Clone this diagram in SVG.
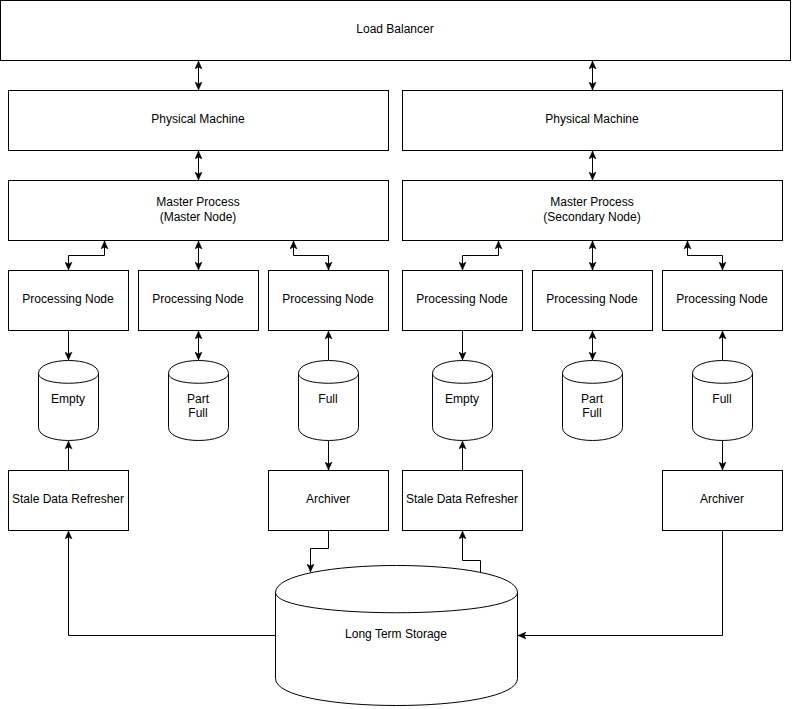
<svg xmlns="http://www.w3.org/2000/svg" width="792" height="709" viewBox="0 0 792 709">
<style>
.b{fill:#fff;stroke:#000;stroke-width:1}
.c{fill:none;stroke:#000;stroke-width:1}
text{font-family:"Liberation Sans",Arial,Helvetica,sans-serif;font-size:12px;fill:#000;text-anchor:middle}
.e{fill:none;stroke:#000;stroke-width:1}
.a2{marker-start:url(#ah);marker-end:url(#ah)}
.a1{marker-end:url(#ah)}
</style>
<defs>
<marker id="ah" markerUnits="userSpaceOnUse" markerWidth="8" markerHeight="8" refX="8" refY="4" orient="auto-start-reverse" viewBox="0 0 8 8">
<path d="M8,4 L0,0.5 L2,4 L0,7.5 Z" fill="#000" stroke="#000" stroke-width="0.5"/>
</marker>
</defs>
<rect width="792" height="709" fill="#fff"/>

<g id="load-balancer"><rect class="b" x="0.5" y="0.5" width="790" height="60"/><text x="395" y="33">Load Balancer</text></g>

<g id="pm-left"><rect class="b" x="8.5" y="90.5" width="380" height="60"/><text x="198" y="123">Physical Machine</text></g>
<g id="pm-right"><rect class="b" x="402.5" y="90.5" width="380" height="60"/><text x="592" y="123">Physical Machine</text></g>

<g id="mp-left"><rect class="b" x="8.5" y="180.5" width="380" height="60"/><text x="198" y="206">Master Process</text><text x="198" y="221">(Master Node)</text></g>
<g id="mp-right"><rect class="b" x="402.5" y="180.5" width="380" height="60"/><text x="592" y="206">Master Process</text><text x="592" y="221">(Secondary Node)</text></g>

<g id="pn-l1"><rect class="b" x="8.5" y="270.5" width="120" height="60"/><text x="68" y="303">Processing Node</text></g>
<g id="pn-l2"><rect class="b" x="138.5" y="270.5" width="120" height="60"/><text x="198" y="303">Processing Node</text></g>
<g id="pn-l3"><rect class="b" x="268.5" y="270.5" width="120" height="60"/><text x="328" y="303">Processing Node</text></g>
<g id="pn-r1"><rect class="b" x="402.5" y="270.5" width="120" height="60"/><text x="462" y="303">Processing Node</text></g>
<g id="pn-r2"><rect class="b" x="532.5" y="270.5" width="120" height="60"/><text x="592" y="303">Processing Node</text></g>
<g id="pn-r3"><rect class="b" x="662.5" y="270.5" width="120" height="60"/><text x="722" y="303">Processing Node</text></g>

<g id="db-l1"><path class="b" d="M38.5,373.5 C38.5,356.2 98.5,356.2 98.5,373.5 L98.5,427.5 C98.5,444.8 38.5,444.8 38.5,427.5 Z"/><path class="e" d="M38.5,373.5 C38.5,386.5 98.5,386.5 98.5,373.5"/><text x="68" y="403">Empty</text></g>
<g id="db-l2"><path class="b" d="M168.5,373.5 C168.5,356.2 228.5,356.2 228.5,373.5 L228.5,427.5 C228.5,444.8 168.5,444.8 168.5,427.5 Z"/><path class="e" d="M168.5,373.5 C168.5,386.5 228.5,386.5 228.5,373.5"/><text x="198" y="403">Part</text><text x="198" y="417">Full</text></g>
<g id="db-l3"><path class="b" d="M298.5,373.5 C298.5,356.2 358.5,356.2 358.5,373.5 L358.5,427.5 C358.5,444.8 298.5,444.8 298.5,427.5 Z"/><path class="e" d="M298.5,373.5 C298.5,386.5 358.5,386.5 358.5,373.5"/><text x="328" y="403">Full</text></g>
<g id="db-r1"><path class="b" d="M432.5,373.5 C432.5,356.2 492.5,356.2 492.5,373.5 L492.5,427.5 C492.5,444.8 432.5,444.8 432.5,427.5 Z"/><path class="e" d="M432.5,373.5 C432.5,386.5 492.5,386.5 492.5,373.5"/><text x="462" y="403">Empty</text></g>
<g id="db-r2"><path class="b" d="M562.5,373.5 C562.5,356.2 622.5,356.2 622.5,373.5 L622.5,427.5 C622.5,444.8 562.5,444.8 562.5,427.5 Z"/><path class="e" d="M562.5,373.5 C562.5,386.5 622.5,386.5 622.5,373.5"/><text x="592" y="403">Part</text><text x="592" y="417">Full</text></g>
<g id="db-r3"><path class="b" d="M692.5,373.5 C692.5,356.2 752.5,356.2 752.5,373.5 L752.5,427.5 C752.5,444.8 692.5,444.8 692.5,427.5 Z"/><path class="e" d="M692.5,373.5 C692.5,386.5 752.5,386.5 752.5,373.5"/><text x="722" y="403">Full</text></g>

<g id="sdr-left"><rect class="b" x="8.5" y="470.5" width="120" height="60"/><text x="68" y="503">Stale Data Refresher</text></g>
<g id="arch-left"><rect class="b" x="268.5" y="470.5" width="120" height="60"/><text x="328" y="503">Archiver</text></g>
<g id="sdr-right"><rect class="b" x="402.5" y="470.5" width="120" height="60"/><text x="462" y="503">Stale Data Refresher</text></g>
<g id="arch-right"><rect class="b" x="662.5" y="470.5" width="120" height="60"/><text x="722" y="503">Archiver</text></g>

<g id="long-term-storage"><path class="b" d="M275.5,592.5 C275.5,556.5 517.5,556.5 517.5,592.5 L517.5,678.5 C517.5,714.5 275.5,714.5 275.5,678.5 Z"/><path class="e" d="M275.5,592.5 C275.5,619.5 517.5,619.5 517.5,592.5"/><text x="396" y="638">Long Term Storage</text></g>

<g id="connectors" class="c">
<path class="a2" d="M198.5,61 V90"/>
<path class="a2" d="M592.5,61 V90"/>
<path class="a2" d="M198.5,151 V180"/>
<path class="a2" d="M592.5,151 V180"/>
<path class="a2" d="M104.5,241 V255.5 H68.5 V270"/>
<path class="a2" d="M198.5,241 V270"/>
<path class="a2" d="M293.5,241 V255.5 H328.5 V270"/>
<path class="a2" d="M498.5,241 V255.5 H462.5 V270"/>
<path class="a2" d="M592.5,241 V270"/>
<path class="a2" d="M687.5,241 V255.5 H722.5 V270"/>
<path class="a1" d="M68.5,331 V360"/>
<path class="a2" d="M198.5,331 V360"/>
<path class="a1" d="M328.5,360 V331"/>
<path class="a1" d="M462.5,331 V360"/>
<path class="a2" d="M592.5,331 V360"/>
<path class="a1" d="M722.5,360 V331"/>
<path class="a1" d="M68.5,470 V441"/>
<path class="a1" d="M328.5,441 V470"/>
<path class="a1" d="M462.5,470 V441"/>
<path class="a1" d="M722.5,441 V470"/>
<path class="a1" d="M328.5,531 V548.5 H310.5 V572"/>
<path class="a1" d="M275.5,635.5 H68.5 V531"/>
<path class="a1" d="M480.5,572 V560.5 H462.5 V531"/>
<path class="a1" d="M722.5,531 V635.5 H518"/>
</g>
</svg>
